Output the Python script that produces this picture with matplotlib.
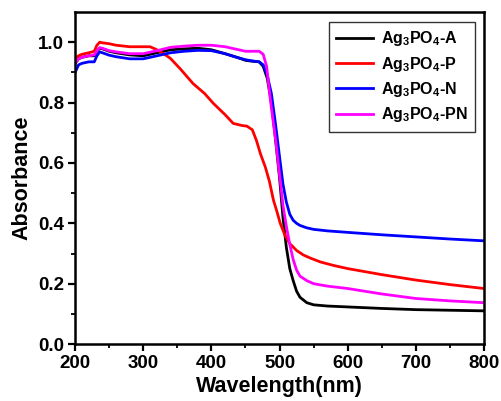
import matplotlib
matplotlib.use("Agg")
import matplotlib.pyplot as plt
import numpy as np

plt.rcParams['font.family'] = ['Liberation Sans', 'DejaVu Sans']
plt.rcParams['font.weight'] = 'bold'
plt.rcParams['mathtext.fontset'] = 'custom'
plt.rcParams['mathtext.rm'] = 'Liberation Sans:bold'
plt.rcParams['mathtext.bf'] = 'Liberation Sans:bold'
plt.rcParams['mathtext.default'] = 'bf'

labels = [r'Ag$_3$PO$_4$-A', r'Ag$_3$PO$_4$-P', r'Ag$_3$PO$_4$-N', r'Ag$_3$PO$_4$-PN']
colors = ['black', '#ff0000', '#0000ff', '#ff00ff']

wl_a = [200, 205, 210, 220, 228, 232, 236, 240, 250, 260, 280, 300, 320, 340, 360, 380, 400, 420, 440, 450, 460, 470, 476, 482, 488, 494, 500, 505, 510, 515, 520, 525, 530, 540, 550, 570, 600, 650, 700, 750, 800]
ab_a = [0.93, 0.945, 0.95, 0.955, 0.955, 0.97, 0.98, 0.978, 0.97, 0.965, 0.958, 0.955, 0.965, 0.975, 0.978, 0.98, 0.975, 0.962, 0.948, 0.94, 0.937, 0.935, 0.92, 0.88, 0.80, 0.68, 0.55, 0.42, 0.32, 0.25, 0.21, 0.175, 0.155, 0.137, 0.13, 0.126, 0.123, 0.118, 0.114, 0.112, 0.11]

wl_p = [200, 205, 210, 220, 228, 232, 236, 240, 250, 260, 280, 300, 310, 320, 330, 340, 355, 373, 390, 403, 420, 432, 445, 452, 460, 466, 472, 479, 485, 491, 496, 501, 508, 515, 525, 535, 545, 560, 580, 600, 650, 700, 750, 800]
ab_p = [0.945, 0.955, 0.96, 0.965, 0.97, 0.99, 1.0, 0.998, 0.995, 0.99, 0.985, 0.985, 0.985, 0.975, 0.962, 0.946, 0.91, 0.863, 0.83, 0.797, 0.76, 0.731, 0.724, 0.722, 0.71, 0.675, 0.63, 0.587, 0.54, 0.477, 0.44, 0.40, 0.36, 0.333, 0.31, 0.295, 0.285, 0.272, 0.26, 0.25, 0.23, 0.212, 0.197, 0.184]

wl_n = [200, 205, 210, 220, 228, 232, 236, 240, 250, 260, 280, 300, 320, 340, 360, 380, 400, 420, 440, 450, 460, 470, 476, 482, 488, 494, 500, 505, 510, 515, 520, 525, 530, 540, 550, 570, 600, 650, 700, 750, 800]
ab_n = [0.90, 0.925, 0.93, 0.935, 0.935, 0.955, 0.968, 0.965, 0.957, 0.952, 0.945, 0.945, 0.955, 0.965, 0.97, 0.973, 0.972, 0.962, 0.948, 0.942, 0.938, 0.935, 0.925, 0.89, 0.83, 0.73, 0.62, 0.53, 0.47, 0.43, 0.41, 0.40, 0.393, 0.385, 0.38, 0.375, 0.37, 0.362, 0.355, 0.348, 0.342]

wl_pn = [200, 205, 210, 220, 228, 232, 236, 240, 250, 260, 280, 300, 320, 340, 360, 380, 400, 420, 440, 450, 460, 470, 476, 481, 487, 494, 500, 505, 510, 515, 520, 525, 530, 540, 550, 570, 600, 650, 700, 750, 800]
ab_pn = [0.93, 0.945, 0.95, 0.955, 0.958, 0.972, 0.982, 0.98, 0.972, 0.968, 0.962, 0.962, 0.972, 0.983, 0.987, 0.99, 0.99, 0.985, 0.975, 0.97, 0.97, 0.97, 0.96, 0.92, 0.80, 0.68, 0.56, 0.46, 0.39, 0.33, 0.28, 0.245, 0.225, 0.21, 0.2, 0.192, 0.184, 0.166, 0.151, 0.143, 0.137]

series = [(wl_a, ab_a), (wl_p, ab_p), (wl_n, ab_n), (wl_pn, ab_pn)]

fig = plt.figure(figsize=(5.01, 4.01), dpi=100)
ax = fig.add_axes([0.150, 0.142, 0.816, 0.828])

for (x, y), c, lab in zip(series, colors, labels):
    ax.plot(x, y, color=c, lw=2.0, label=lab)

ax.set_xlim(200, 800)
ax.set_ylim(0, 1.1)
ax.set_xticks(np.arange(200, 801, 100))
ax.set_xticks(np.arange(250, 800, 100), minor=True)
ax.set_yticks(np.arange(0, 1.01, 0.2))
ax.set_yticks(np.arange(0.1, 1.1, 0.2), minor=True)
ax.yaxis.set_major_formatter(matplotlib.ticker.FormatStrFormatter('%.1f'))
ax.tick_params(axis='both', which='major', direction='out', length=5, width=1.6, labelsize=13.5, pad=3)
ax.tick_params(axis='both', which='minor', direction='out', length=3, width=1.3)
for sp in ax.spines.values():
    sp.set_linewidth(1.8)
for t in ax.get_xticklabels() + ax.get_yticklabels():
    t.set_fontweight('bold')

ax.set_xlabel('Wavelength(nm)', fontsize=15.5, fontweight='bold', labelpad=3)
ax.set_ylabel('Absorbance', fontsize=15.5, fontweight='bold', labelpad=4)

leg = ax.legend(loc='upper right', bbox_to_anchor=(0.978, 0.97), borderaxespad=0, fontsize=11.5,
                frameon=True, fancybox=False, edgecolor='black', handlelength=2.3,
                borderpad=0.45, labelspacing=0.4, handletextpad=0.5)
leg.get_frame().set_linewidth(1.0)
for t in leg.get_texts():
    t.set_fontweight('bold')

fig.savefig('out.png', dpi=100)
